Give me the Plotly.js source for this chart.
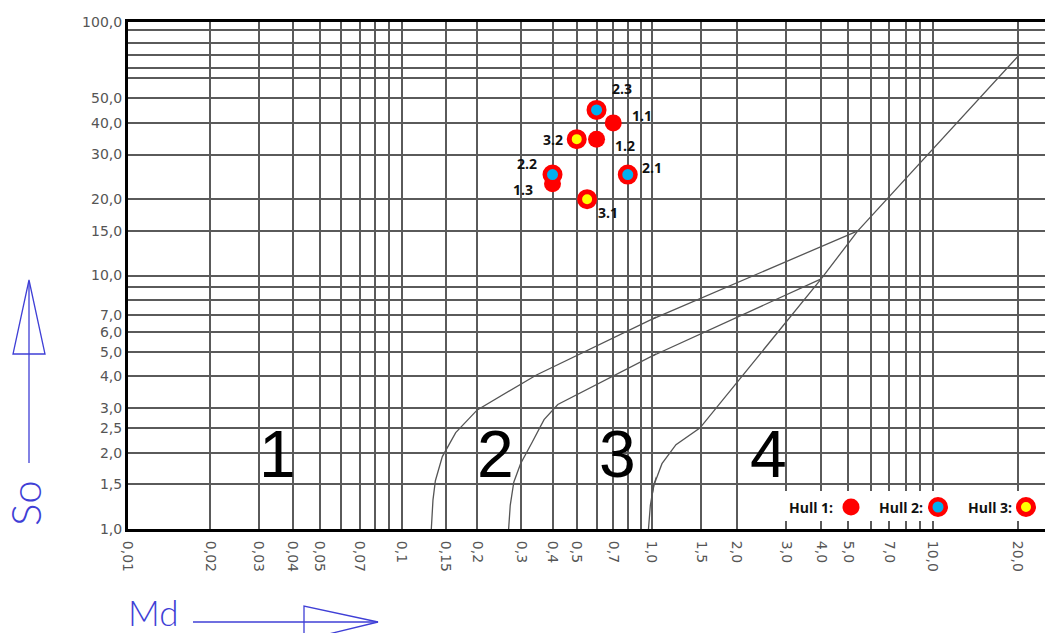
<!DOCTYPE html>
<html><head><meta charset="utf-8">
<script src="https://cdn.plot.ly/plotly-3.0.1.min.js"></script>
<style>html,body{margin:0;padding:0;background:#fff}#chart{width:1045px;height:633px}</style>
</head><body><div id="chart"></div>
<script>
// ---- Md grid (x), split in the nomogram's three drawn decades ----
const mdGrid1 = [0.01, 0.02, 0.03, 0.04, 0.05, 0.06, 0.07, 0.08, 0.09, 0.1];
const mdLabels1 = ['0,01', '0,02', '0,03', '0,04', '0,05', '', '0,07', '', '', '0,1'];
const mdGrid2 = [0.1, 0.15, 0.2, 0.3, 0.4, 0.5, 0.6, 0.7, 0.8, 0.9, 1.0];
const mdLabels2 = ['', '0,15', '0,2', '0,3', '0,4', '0,5', '', '0,7', '', '', '1,0'];
const mdGrid3 = [1.5, 2, 3, 4, 5, 6, 7, 8, 9, 10, 20];
const mdLabels3 = ['1,5', '2,0', '3,0', '4,0', '5,0', '', '7,0', '', '', '10,0', '20,0'];

// ---- So grid (y) ----
const soGrid = [1, 1.5, 2, 2.5, 3, 4, 5, 6, 7, 8, 9, 10, 15, 20, 30, 40, 50, 60, 66, 74, 83, 93, 100];
const soLabels = ['1,0', '1,5', '2,0', '2,5', '3,0', '4,0', '5,0', '6,0', '7,0', '', '', '10,0', '15,0', '20,0', '30,0', '40,0', '50,0', '', '', '', '', '', '100,0'];

// ---- zone boundary curves ----
const curveA_x = [0.131, 0.133, 0.136, 0.145, 0.164, 0.2, 0.345, 5.4];
const curveA_y = [1.0, 1.3, 1.55, 1.93, 2.4, 2.95, 4.05, 15];
const curveB_x = [0.267, 0.271, 0.28, 0.298, 0.33, 0.37, 0.42, 4.0];
const curveB_y = [1.0, 1.24, 1.53, 1.81, 2.18, 2.7, 3.1, 9.7];
const curveC_x = [0.968, 0.985, 1.016, 1.085, 1.217, 1.48, 4.0, 5.4, 20];
const curveC_y = [1.0, 1.24, 1.49, 1.81, 2.15, 2.5, 9.7, 15, 73];

// ---- samples ----
const hull1_labels = ['1.1', '1.2', '1.3'];
const hull1_md = [0.7, 0.6, 0.4];
const hull1_so = [40, 34.5, 23];
const hull2_labels = ['2.1', '2.2', '2.3'];
const hull2_md = [0.8, 0.4, 0.6];
const hull2_so = [25, 25, 45];
const hull3_labels = ['3.1', '3.2'];
const hull3_md = [0.55, 0.5];
const hull3_so = [20, 34.5];

const zoneNames = ['1', '2', '3', '4'];
const legendNames = ['Hull 1:', 'Hull 2:', 'Hull 3:'];

// ---------------- layout geometry (pixels) ----------------
const W = 1045, H = 633, L = 128, T = 22, B = 104;
const PW = W - L, PH = H - T - B;
const px = p => (p - L) / PW;            // pixel x -> paper
const py = p => (H - B - p) / PH;        // pixel y -> paper

const RED = '#ff0000', BLUE = '#00b0f0', YEL = '#ffff00', INK = '#3f3fd6';
const gridC = '#5a5a5a';

const xBase = {
  type: 'log', showgrid: true, gridcolor: gridC, gridwidth: 2,
  showline: true, linecolor: '#000', linewidth: 3, mirror: true,
  ticks: '', tickangle: 90, tickfont: {family: 'DejaVu Sans', size: 14, color: '#555'},
  zeroline: false, fixedrange: true, anchor: 'y', tickmode: 'array', ticklabelstandoff: 6
};

const lineStyle = {color: '#555', width: 1.3};
const traces = [];
[['x', 'y'], ['x2', 'y'], ['x3', 'y']].forEach(([xa, ya]) => {
  [[curveA_x, curveA_y], [curveB_x, curveB_y], [curveC_x, curveC_y]].forEach(([cx, cy]) => {
    traces.push({x: cx, y: cy, xaxis: xa, yaxis: ya, mode: 'lines', line: lineStyle, hoverinfo: 'skip', showlegend: false});
  });
});
traces.push({x: hull1_md, y: hull1_so, xaxis: 'x2', yaxis: 'y', mode: 'markers', name: 'Hull 1',
  marker: {size: 17, color: RED, line: {width: 0}}, showlegend: false});
traces.push({x: hull2_md, y: hull2_so, xaxis: 'x2', yaxis: 'y', mode: 'markers', name: 'Hull 2',
  marker: {size: 15.5, color: BLUE, line: {width: 4.5, color: RED}}, showlegend: false});
traces.push({x: hull3_md, y: hull3_so, xaxis: 'x2', yaxis: 'y', mode: 'markers', name: 'Hull 3',
  marker: {size: 15, color: YEL, line: {width: 5, color: RED}}, showlegend: false});

// label offsets (pixels) for each sample label
const off = {
  '1.1': [29, 7], '1.2': [28, -6], '1.3': [-30, -6],
  '2.1': [24, 7], '2.2': [-26, 11], '2.3': [25, 21],
  '3.1': [21, -13], '3.2': [-24, 0]
};
const annotations = [];
[[hull1_labels, hull1_md, hull1_so], [hull2_labels, hull2_md, hull2_so], [hull3_labels, hull3_md, hull3_so]].forEach(([lb, mx, my]) => {
  lb.forEach((t, i) => {
    annotations.push({text: t, xref: 'x2', yref: 'y', x: Math.log10(mx[i]), y: Math.log10(my[i]),
      xanchor: 'center', yanchor: 'middle',
      xshift: off[t][0], yshift: off[t][1], showarrow: false,
      font: {family: 'Open Sans', size: 14, color: '#111', weight: 700}});
  });
});

// zone numbers
const zonePx = [277, 495, 617, 768];
zoneNames.forEach((z, i) => {
  annotations.push({text: z, xref: 'paper', yref: 'paper', x: px(zonePx[i]), y: py(454),
    xanchor: 'center', yanchor: 'middle', showarrow: false,
    font: {family: 'Liberation Sans', size: 66, color: '#000'}});
});

// legend texts
const legEnd = [835, 925, 1014];
legendNames.forEach((n, i) => {
  annotations.push({text: n, xref: 'paper', yref: 'paper', x: px(legEnd[i]), y: py(507), xanchor: 'right', yanchor: 'middle', showarrow: false,
    font: {family: 'Open Sans', size: 14, color: '#111', weight: 700}});
});

// axis names
annotations.push({text: 'So', xref: 'paper', yref: 'paper', x: px(25), y: py(503), xanchor: 'center', yanchor: 'middle',
  textangle: -90, showarrow: false, font: {family: 'Lato', size: 42, color: INK, weight: 300}});
annotations.push({text: 'Md', xref: 'paper', yref: 'paper', x: px(153), y: py(612), xanchor: 'center', yanchor: 'middle',
  showarrow: false, font: {family: 'Lato', size: 35, color: INK, weight: 300}});

const shapes = [
  // decade boundary grid line at Md = 0.1 (drawn through the x axis scale)
  {type: 'line', xref: 'x', yref: 'paper', x0: Math.log10(mdGrid2[0]), x1: Math.log10(mdGrid2[0]), y0: 0, y1: 1,
    line: {color: gridC, width: 2}, layer: 'below'},
  // legend background
  {type: 'rect', xref: 'paper', yref: 'paper', x0: px(772), x1: 1, y0: py(521), y1: py(491), fillcolor: '#fff', line: {width: 0}, layer: 'above'},
  // legend symbols
  {type: 'circle', xref: 'paper', yref: 'paper', xsizemode: 'pixel', ysizemode: 'pixel', xanchor: px(851), yanchor: py(507),
    x0: -8.5, x1: 8.5, y0: -8.5, y1: 8.5, fillcolor: RED, line: {width: 0}, layer: 'above'},
  {type: 'circle', xref: 'paper', yref: 'paper', xsizemode: 'pixel', ysizemode: 'pixel', xanchor: px(938), yanchor: py(507),
    x0: -7.75, x1: 7.75, y0: -7.75, y1: 7.75, fillcolor: BLUE, line: {width: 4.5, color: RED}, layer: 'above'},
  {type: 'circle', xref: 'paper', yref: 'paper', xsizemode: 'pixel', ysizemode: 'pixel', xanchor: px(1026), yanchor: py(507),
    x0: -7.5, x1: 7.5, y0: -7.5, y1: 7.5, fillcolor: YEL, line: {width: 5, color: RED}, layer: 'above'},
  // So arrow
  {type: 'line', xref: 'paper', yref: 'paper', x0: px(29), x1: px(29), y0: py(463), y1: py(281), line: {color: INK, width: 1.3}},
  {type: 'path', xref: 'paper', yref: 'paper',
    path: `M ${px(13)},${py(354)} L ${px(45)},${py(354)} L ${px(29)},${py(280)} Z`, line: {color: INK, width: 1.3}},
  // Md arrow
  {type: 'line', xref: 'paper', yref: 'paper', x0: px(193), x1: px(378), y0: py(622), y1: py(622), line: {color: INK, width: 1.3}},
  {type: 'path', xref: 'paper', yref: 'paper',
    path: `M ${px(304)},${py(606)} L ${px(304)},${py(640)} L ${px(378)},${py(622)} Z`, line: {color: INK, width: 1.3}}
];

const layout = {
  width: W, height: H, margin: {l: L, r: 0, t: T, b: B, pad: 0},
  paper_bgcolor: '#fff', plot_bgcolor: 'rgba(0,0,0,0)', showlegend: false, hovermode: false,
  xaxis: Object.assign({}, xBase, {domain: [0, px(410)], range: [-2, -2 + 282 / 274], tickvals: mdGrid1, ticktext: mdLabels1}),
  xaxis2: Object.assign({}, xBase, {domain: [px(396), px(656)], range: [-1 - 6 / 250, -1 + 254 / 250], tickvals: mdGrid2, ticktext: mdLabels2}),
  xaxis3: Object.assign({}, xBase, {domain: [px(652), 1], range: [0, 393 / 281], tickvals: mdGrid3, ticktext: mdLabels3}),
  yaxis: {type: 'log', range: [0, 2], domain: [0, 1], anchor: 'x', tickmode: 'array', tickvals: soGrid, ticktext: soLabels,
    showgrid: true, gridcolor: gridC, gridwidth: 2, showline: true, linecolor: '#000', linewidth: 3, mirror: false,
    ticks: '', tickfont: {family: 'DejaVu Sans', size: 14, color: '#555'}, zeroline: false, fixedrange: true, ticklabelstandoff: 0},
  annotations: annotations,
  shapes: shapes
};

Plotly.newPlot('chart', traces, layout, {staticPlot: true, displayModeBar: false});
</script>
</body></html>
